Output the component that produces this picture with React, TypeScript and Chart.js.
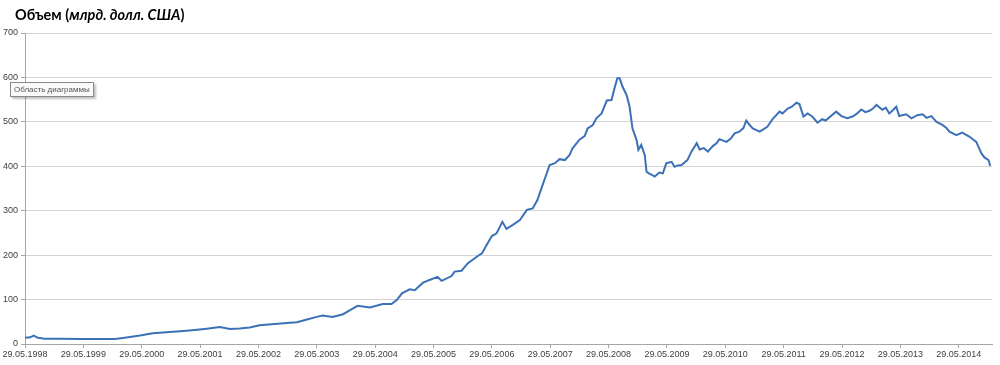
import React, { useEffect, useRef } from "react";
import { Chart, registerables } from "chart.js";

Chart.register(...registerables);

// decimal year (29.05.1998 ≈ 1998.41)
const years: number[] = [
  1998.41, 1998.5, 1998.56, 1998.63, 1998.75, 1999.01, 1999.35, 1999.69, 1999.95, 2000.12,
  2000.38, 2000.6, 2000.89, 2001.18, 2001.49, 2001.75, 2001.92, 2002.09, 2002.26, 2002.43,
  2002.69, 2002.95, 2003.07, 2003.24, 2003.41, 2003.51, 2003.68, 2003.86, 2003.98, 2004.11,
  2004.32, 2004.54, 2004.69, 2004.78, 2004.87, 2005.0, 2005.09, 2005.23, 2005.34, 2005.48,
  2005.55, 2005.72, 2005.77, 2005.89, 2006.0, 2006.17, 2006.24, 2006.32, 2006.41, 2006.49,
  2006.59, 2006.66, 2006.77, 2006.89, 2007.01, 2007.11, 2007.19, 2007.28, 2007.35, 2007.4,
  2007.49, 2007.57, 2007.66, 2007.74, 2007.79, 2007.91, 2008.0, 2008.05, 2008.14, 2008.2,
  2008.29, 2008.38, 2008.46, 2008.51, 2008.56, 2008.6, 2008.65, 2008.72, 2008.77, 2008.82,
  2008.89, 2008.92, 2008.97, 2009.03, 2009.06, 2009.1, 2009.16, 2009.2, 2009.28, 2009.34, 2009.4, 2009.49,
  2009.54, 2009.6, 2009.66, 2009.76, 2009.83, 2009.92, 2009.97, 2010.04, 2010.11, 2010.2, 2010.26, 2010.31, 2010.43,
  2010.5, 2010.57, 2010.65, 2010.72, 2010.77, 2010.82, 2010.88, 2011.0, 2011.13, 2011.22, 2011.34, 2011.39, 2011.48,
  2011.55, 2011.63, 2011.68, 2011.75, 2011.82, 2011.9, 2011.99, 2012.07, 2012.13, 2012.19, 2012.31, 2012.4,
  2012.5, 2012.59, 2012.66, 2012.74, 2012.81, 2012.88, 2012.94, 2013.0, 2013.1, 2013.16, 2013.22, 2013.28, 2013.34, 2013.39, 2013.51,
  2013.6, 2013.7, 2013.79, 2013.86, 2013.94, 2014.03, 2014.13, 2014.2, 2014.25, 2014.37, 2014.47, 2014.59, 2014.71,
  2014.8, 2014.85, 2014.92, 2014.95,
];

const volume: number[] = [
  14, 15, 19, 14, 12, 12, 11, 11, 11, 14,
  19, 24, 27, 30, 34, 38, 34, 35, 37, 42,
  45, 48, 49, 55, 61, 64, 61, 67, 76, 86,
  82, 90, 90, 99, 114, 123, 121, 138, 144, 151,
  142, 153, 163, 165, 182, 198, 204, 223, 243, 249,
  275, 259, 268, 279, 302, 305, 324, 358, 384, 403,
  407, 416, 414, 425, 440, 460, 468, 485, 493, 508,
  519, 548, 549, 575, 598, 598, 579, 560, 534, 485,
  459, 437, 448, 425, 388, 384, 380, 377, 386, 384, 407, 410,
  399, 402, 403, 414, 433, 452, 438, 441, 433, 446, 452, 461, 455,
  462, 474, 478, 486, 503, 494, 485, 478, 489, 506, 523, 519, 530,
  534, 543, 540, 512, 519, 512, 498, 506, 503, 510, 523, 513,
  508, 512, 518, 528, 522, 525, 530, 538, 527, 532, 519, 526, 534, 513, 517,
  508, 515, 517, 509, 513, 500, 493, 486, 478, 470, 476, 467, 455,
  429, 420, 414, 401,
];

const tickYears: number[] = [
  1998, 1999, 2000, 2001, 2002, 2003, 2004, 2005, 2006, 2007, 2008, 2009, 2010, 2011, 2012, 2013, 2014,
];
const tickLabels: string[] = tickYears.map((y) => `29.05.${y}`);

export default function App() {
  const ref = useRef<HTMLCanvasElement | null>(null);
  useEffect(() => {
    if (!ref.current) return;
    const data = years.map((x, i) => ({ x, y: volume[i] }));
    const chart = new Chart(ref.current, {
      type: "line",
      data: {
        datasets: [
          {
            data,
            borderColor: "#3d71b7",
            borderWidth: 2,
            pointRadius: 0,
            tension: 0,
            fill: false,
          },
        ],
      },
      options: {
        animation: false,
        responsive: false,
        layout: { padding: { top: 33, right: 8, left: 0, bottom: 0 } },
        plugins: { legend: { display: false }, tooltip: { enabled: false }, title: { display: false } },
        scales: {
          x: {
            type: "linear",
            min: 1998.41,
            max: 2014.98,
            afterBuildTicks: (scale: any) => {
              scale.ticks = tickYears.map((y) => ({ value: y + 0.41 }));
            },
            afterFit: (scale: any) => {
              scale.height = 21;
            },
            ticks: {
              autoSkip: false,
              maxRotation: 0,
              color: "#404040",
              font: { family: "Liberation Sans", size: 9 },
              padding: 1,
              callback: (v: any) => tickLabels[Math.round(Number(v) - 0.41) - 1998] ?? "",
            },
            grid: { drawOnChartArea: false, drawTicks: true, tickLength: 4, color: "#a6a6a6" },
            border: { color: "#a6a6a6", width: 1 },
          },
          y: {
            min: 0,
            max: 700,
            afterFit: (scale: any) => {
              scale.width = 25;
            },
            ticks: {
              stepSize: 100,
              color: "#404040",
              font: { family: "Liberation Sans", size: 9 },
              padding: 3,
            },
            grid: { color: "#d4d4d4", lineWidth: 1, tickLength: 4, tickColor: "#a6a6a6" },
            border: { color: "#a6a6a6", width: 1 },
          },
        },
      },
    });
    return () => chart.destroy();
  }, []);

  return (
    <div style={{ position: "fixed", left: 0, top: 0, width: 1000, height: 365, background: "#fff" }}>
      <canvas ref={ref} width={1000} height={365} style={{ position: "absolute", left: 0, top: 0 }} />
      <div
        style={{
          position: "absolute",
          left: 15,
          top: 5,
          fontFamily: "Lato, 'Liberation Sans', sans-serif",
          fontSize: 14.5,
          fontWeight: 700,
          color: "#000",
          whiteSpace: "nowrap",
          lineHeight: "20px",
        }}
      >
        Объем (<i>млрд. долл. США</i>)
      </div>
      <div
        style={{
          position: "absolute",
          left: 10,
          top: 82,
          padding: "1px 3px",
          fontFamily: "'Liberation Sans', sans-serif",
          fontSize: 8,
          lineHeight: "11px",
          color: "#555",
          background: "#fafafa",
          border: "1px solid #8a8a8a",
          boxShadow: "2px 2px 2px rgba(0,0,0,0.25)",
          whiteSpace: "nowrap",
        }}
      >
        Область диаграммы
      </div>
    </div>
  );
}
